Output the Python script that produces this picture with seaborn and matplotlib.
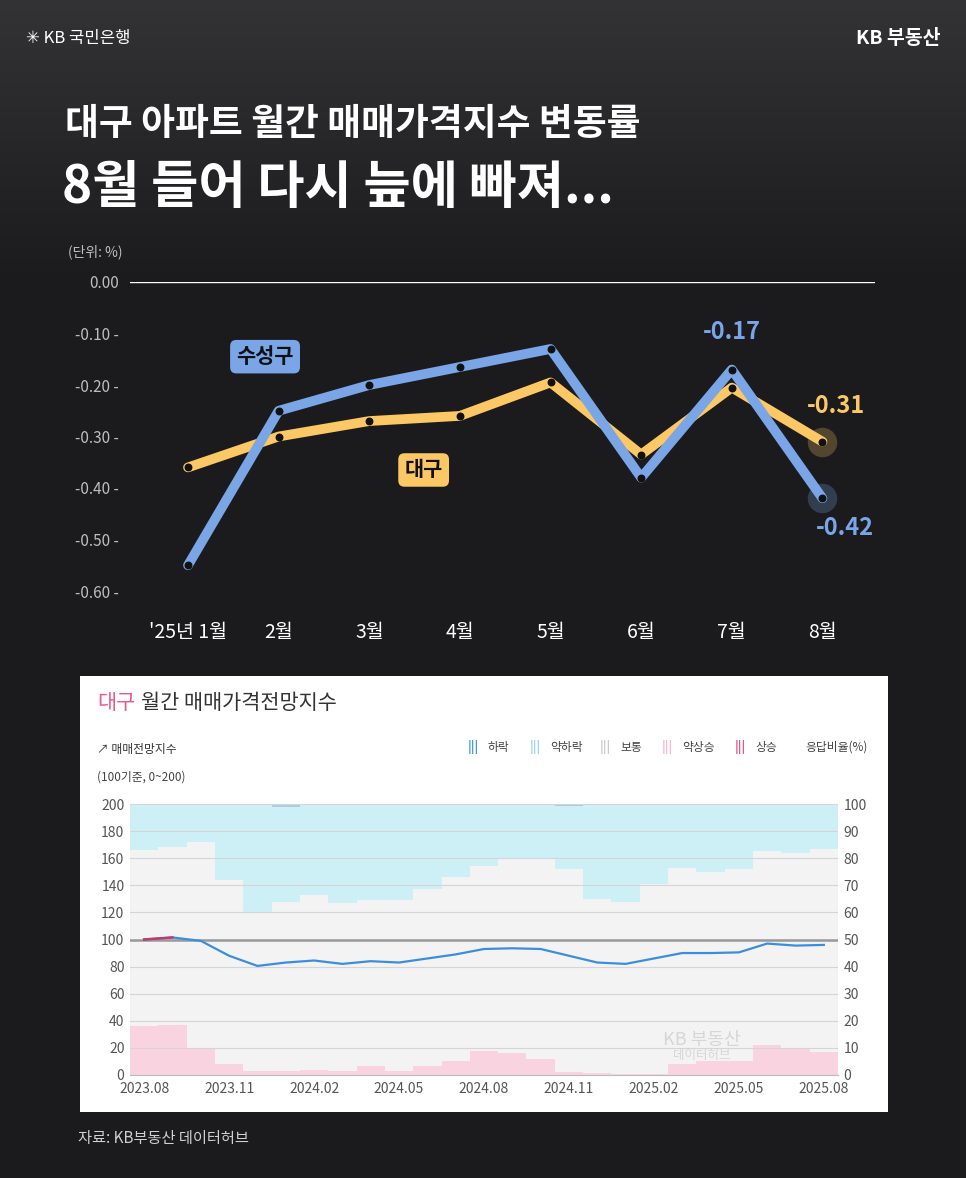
import numpy as np
import pandas as pd
import matplotlib
matplotlib.use("Agg")
import matplotlib.pyplot as plt
from matplotlib import font_manager
import seaborn as sns

cands = ["Noto Sans CJK KR", "Noto Sans CJK JP", "Noto Sans CJK SC", "Noto Sans CJK TC"]
avail = {f.name for f in font_manager.fontManager.ttflist}
fams = [c for c in cands if c in avail] + ["DejaVu Sans"]
plt.rcParams["font.family"] = fams

# ---- top chart data
months = ["'25년 1월", "2월", "3월", "4월", "5월", "6월", "7월", "8월"]
daegu = [-0.36, -0.30, -0.27, -0.26, -0.195, -0.335, -0.205, -0.31]
suseong = [-0.55, -0.25, -0.20, -0.165, -0.13, -0.38, -0.17, -0.42]
top_yticks = [0.0, -0.1, -0.2, -0.3, -0.4, -0.5, -0.6]

# ---- bottom chart data (2023.08 ~ 2025.08)
periods = ["2023.08", "2023.09", "2023.10", "2023.11", "2023.12",
           "2024.01", "2024.02", "2024.03", "2024.04", "2024.05", "2024.06",
           "2024.07", "2024.08", "2024.09", "2024.10", "2024.11", "2024.12",
           "2025.01", "2025.02", "2025.03", "2025.04", "2025.05", "2025.06",
           "2025.07", "2025.08"]
rise = [18, 18.5, 10, 4, 1.5, 1.5, 2, 1.5, 3.5, 1.5, 3.5, 5, 9, 8, 6, 1, 0.8,
        0.5, 0.3, 4, 5, 5, 11, 9.5, 8.5]
normal_top = [83, 84, 86, 72, 60, 64, 66.5, 63.5, 64.5, 64.5, 68.5, 73, 77,
              80, 80, 76, 65, 64, 70.5, 76.5, 75, 76, 82.5, 82, 83.5]
strong_fall = [0, 0, 0, 0.3, 0, 1.2, 0.3, 0.3, 0.3, 0.3, 0.3, 0.3, 0.3, 0.3,
               0.3, 0.8, 0.3, 0.3, 0.3, 0.3, 0.3, 0.3, 0.3, 0.3, 0.3]
index_vals = [100, 101.5, 99, 88, 80.5, 83, 84.5, 82, 84, 83, 86, 89, 93,
              93.5, 93, 88, 83, 82, 86, 90, 90, 90.5, 97, 95.5, 96]

BG = "#1b1b1d"
fig = plt.figure(figsize=(9.66, 11.78), dpi=100, facecolor=BG)

bgax = fig.add_axes([0, 0, 1, 1], zorder=-10)
bgax.axis("off")
grad = np.linspace(0, 1, 256).reshape(-1, 1)
bgax.imshow(grad, aspect="auto", cmap=matplotlib.colors.LinearSegmentedColormap.from_list(
    "g", ["#333335", "#1b1b1d"]), extent=[0, 1, 0.76, 1.0])
bgax.set_xlim(0, 1); bgax.set_ylim(0, 1)

W, H = 966, 1178
def fx(px): return px / W
def fy(py): return 1 - py / H

fig.text(fx(26), fy(38), "✳ KB 국민은행", color="white", fontsize=12, va="center")
fig.text(fx(940), fy(38), "KB 부동산", color="white", fontsize=14, fontweight="bold",
         va="center", ha="right")
fig.text(fx(65), fy(125), "대구 아파트 월간 매매가격지수 변동률", color="white",
         fontsize=26.5, fontweight="bold", va="center")
fig.text(fx(62), fy(188), "8월 들어 다시 늪에 빠져...", color="white",
         fontsize=37, fontweight="bold", va="center")

# ---- top chart
ax = fig.add_axes([fx(130), fy(591), fx(875) - fx(130), fy(282) - fy(591)])
ax.set_facecolor("none")
x = np.arange(len(months))
ax.scatter([7], [daegu[-1]], s=450, color="#fcc866", alpha=0.25, zorder=1, linewidths=0)
ax.scatter([7], [suseong[-1]], s=450, color="#7aa5e6", alpha=0.25, zorder=1, linewidths=0)
df = pd.DataFrame({"x": np.tile(x, 2), "v": daegu + suseong,
                   "s": ["대구"] * 8 + ["수성구"] * 8})
sns.lineplot(data=df, x="x", y="v", hue="s", palette={"대구": "#fcc866", "수성구": "#7aa5e6"},
             hue_order=["대구", "수성구"], linewidth=7, ax=ax, legend=False,
             solid_capstyle="round", solid_joinstyle="round")
ax.scatter(x, daegu, s=22, color="#111", zorder=5)
ax.scatter(x, suseong, s=22, color="#111", zorder=5)
ax.set_xlim(-0.64, 7.58)
ax.set_ylim(-0.6, 0)
ax.set_yticks(top_yticks)
ax.set_yticklabels([f"{t:.2f} -" if t != 0 else "0.00" for t in top_yticks])
ax.set_xticks(x)
ax.set_xticklabels(months)
ax.tick_params(axis="y", colors="#bdbdbd", labelsize=11, length=0, pad=8)
ax.tick_params(axis="x", colors="white", labelsize=14, length=0, pad=22)
for s in ax.spines.values():
    s.set_visible(False)
ax.axhline(0, color="white", lw=1)
ax.set_xlabel(""); ax.set_ylabel("")
fig.text(fx(68), fy(252), "(단위: %)", color="#bdbdbd", fontsize=10, va="center")

ax.text(0.85, -0.145, "수성구", color="#111", fontsize=15, fontweight="bold",
        ha="center", va="center",
        bbox=dict(boxstyle="round,pad=0.3", fc="#7aa5e6", ec="none"))
ax.text(2.6, -0.365, "대구", color="#111", fontsize=15, fontweight="bold",
        ha="center", va="center",
        bbox=dict(boxstyle="round,pad=0.3", fc="#fcc866", ec="none"))
ax.text(6.0, -0.11, "-0.17", color="#7aa5e6", fontsize=17, fontweight="bold", ha="center")
ax.text(7.15, -0.255, "-0.31", color="#fcc866", fontsize=17, fontweight="bold", ha="center")
ax.text(7.25, -0.455, "-0.42", color="#7aa5e6", fontsize=17, fontweight="bold", ha="center", va="top")

# ---- bottom panel
panel = fig.add_axes([fx(80), fy(1112), fx(888) - fx(80), fy(676) - fy(1112)], zorder=0)
panel.set_facecolor("white"); panel.set_xticks([]); panel.set_yticks([])
for s in panel.spines.values():
    s.set_visible(False)
fig.text(fx(97), fy(703), "대구", color="#e8598f", fontsize=15, va="center")
fig.text(fx(141), fy(703), "월간 매매가격전망지수", color="#333", fontsize=15, va="center")
fig.text(fx(97), fy(750), "↗ 매매전망지수", color="#333", fontsize=8.5, va="center")
fig.text(fx(97), fy(777), "(100기준, 0~200)", color="#444", fontsize=8.5, va="center")
leg = [("|||", "#3d9be9", "하락", 468), ("|||", "#9fd3f5", "약하락", 530),
       ("|||", "#cccccc", "보통", 600), ("|||", "#f5b8cc", "약상승", 662),
       ("|||", "#e0588a", "상승", 735)]
for sym, c, t, px in leg:
    fig.text(fx(px), fy(747), sym, color=c, fontsize=9, fontweight="bold", va="center")
    fig.text(fx(px + 20), fy(747), t, color="#444", fontsize=8.5, va="center")
fig.text(fx(805), fy(747), "응답비율(%)", color="#444", fontsize=8.5, va="center")

bx = fig.add_axes([fx(130), fy(1075), fx(838) - fx(130), fy(804) - fy(1075)], zorder=1)
lx = bx.twinx()
n = len(periods)
xi = np.arange(n)
rise = np.array(rise); normal_top = np.array(normal_top); strong_fall = np.array(strong_fall)
bx.bar(xi, rise, width=1.0, color="#fad3e1", linewidth=0)
bx.bar(xi, normal_top - rise, bottom=rise, width=1.0, color="#f3f3f3", linewidth=0)
bx.bar(xi, 100 - normal_top - strong_fall, bottom=normal_top, width=1.0, color="#cdf0f7", linewidth=0)
bx.bar(xi, strong_fall, bottom=100 - strong_fall, width=1.0, color="#a7cde2", linewidth=0)
bx.set_ylim(0, 100)
bx.set_xlim(-0.5, n - 0.5)
bx.yaxis.tick_right()
bx.set_yticks(range(0, 101, 10))
bx.tick_params(axis="y", colors="#555", labelsize=10, length=0, pad=4)
bx.set_xticks(xi[::3])
bx.set_xticklabels(periods[::3])
bx.tick_params(axis="x", colors="#555", labelsize=10, length=0, pad=5)
for s in bx.spines.values():
    s.set_visible(False)
bx.spines["bottom"].set_visible(True); bx.spines["bottom"].set_color("#bbb")

lx.yaxis.tick_left()
lx.set_ylim(0, 200)
lx.set_yticks(range(0, 201, 20))
lx.tick_params(axis="y", colors="#555", labelsize=10, length=0, pad=4)
for t in range(20, 201, 20):
    lx.axhline(t, color="#d5d5d5", lw=0.8, zorder=0)
lx.axhline(100, color="#999", lw=1.8, zorder=1)
for s in lx.spines.values():
    s.set_visible(False)
ldf = pd.DataFrame({"x": xi, "v": index_vals})
sns.lineplot(data=ldf, x="x", y="v", color="#3a8ee0", linewidth=1.6, ax=lx)
sns.lineplot(data=ldf.iloc[:2], x="x", y="v", color="#c23a6b", linewidth=1.8, ax=lx)
lx.set_xlabel(""); lx.set_ylabel(""); bx.set_xlabel(""); bx.set_ylabel("")
lx.text(19.7, 22, "KB 부동산", color="#cfcfcf", fontsize=13, ha="center", alpha=0.8)
lx.text(19.7, 12, "데이터허브", color="#cfcfcf", fontsize=9, ha="center", alpha=0.8)

fig.text(fx(78), fy(1138), "자료: KB부동산 데이터허브", color="#cfcfcf", fontsize=11, va="center")

fig.savefig("out.png", dpi=100, facecolor=BG)
